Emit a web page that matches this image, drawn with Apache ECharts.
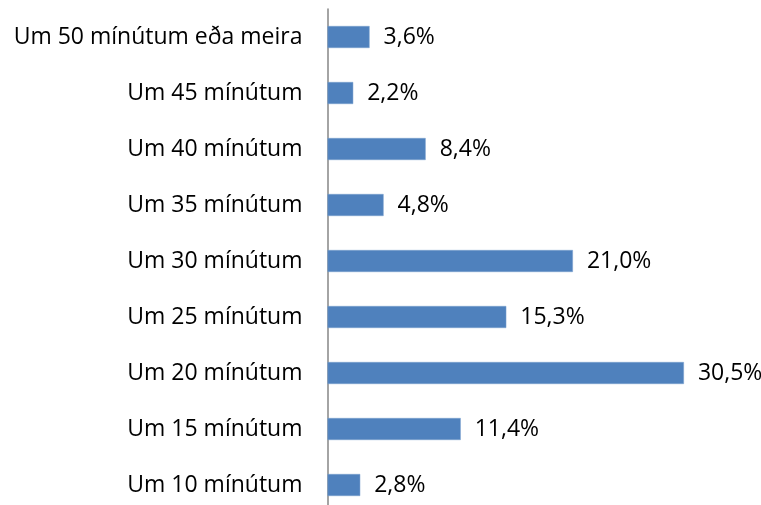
<!DOCTYPE html>
<html><head><meta charset="utf-8">
<script src="https://cdn.jsdelivr.net/npm/echarts@6/dist/echarts.min.js"></script>
<style>html,body{margin:0;padding:0;background:#fff}#c{width:761px;height:505px}</style>
</head><body><div id="c"></div>
<script>
const categories = ["Um 10 mínútum","Um 15 mínútum","Um 20 mínútum","Um 25 mínútum","Um 30 mínútum","Um 35 mínútum","Um 40 mínútum","Um 45 mínútum","Um 50 mínútum eða meira"];
const values = [2.8, 11.4, 30.5, 15.3, 21.0, 4.8, 8.4, 2.2, 3.6];
const chart = echarts.init(document.getElementById('c'));
chart.setOption({
  animation:false,
  grid:{left:327.5, width:409, top:9, height:504, containLabel:false, outerBoundsMode:'none'},
  xAxis:{type:'value', min:0, max:35, show:false},
  yAxis:{type:'category', data:categories,
    axisLine:{lineStyle:{color:'#868686', width:1.5}},
    axisTick:{show:false},
    axisLabel:{color:'#000', fontSize:23, fontFamily:'Open Sans', margin:25}},
  series:[{type:'bar', data:values, barWidth:22,
    itemStyle:{color:'#4F81BD', borderColor:'#7aa0cf', borderWidth:0.5},
    label:{show:true, position:'right', distance:14, color:'#000', fontSize:23, fontFamily:'Open Sans',
      formatter:p=>p.value.toFixed(1).replace('.',',')+'%'}}]
});
</script></body></html>
